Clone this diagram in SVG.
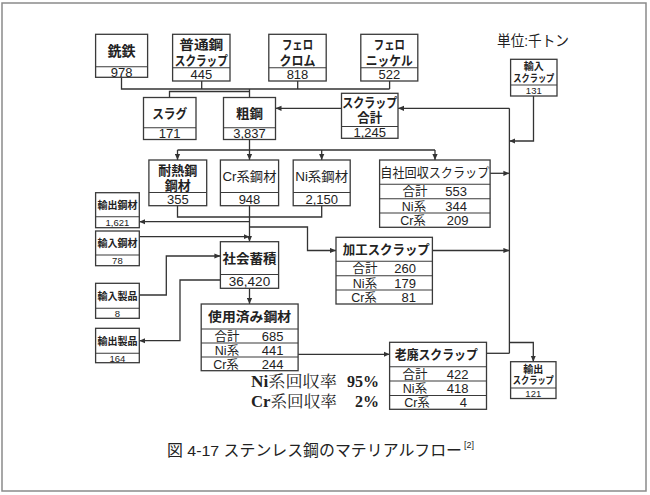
<svg xmlns="http://www.w3.org/2000/svg" width="650" height="495" viewBox="0 0 650 495">
<style>
.bx{fill:#fff;stroke:#3a3a3a;stroke-width:1.3}
.dv{stroke:#3a3a3a;stroke-width:1.1}
text{font-family:"Liberation Sans","Noto Sans CJK JP",sans-serif;fill:#222;text-anchor:middle}
.t{font-size:13px}
.b{font-weight:bold}
.n{font-size:13px}
.s{font-size:10px;font-weight:bold}
.sn{font-size:9.5px}
.r{font-size:12.5px}
.re{font-size:13px;text-anchor:end}
#conn path{fill:none;stroke:#333;stroke-width:1.3}
.ser{font-family:"Liberation Serif","Noto Serif CJK JP","Noto Sans CJK JP",serif;font-size:16px;text-anchor:start}
</style>
<defs>
<marker id="ah" markerUnits="userSpaceOnUse" markerWidth="6" markerHeight="6" refX="6" refY="3" orient="auto">
<path d="M0,0.4 L6,3 L0,5.6 z" fill="#333"/>
</marker>
</defs>
<rect x="2" y="3" width="644" height="488" fill="#fff" stroke="#8a8a8a" stroke-width="1.5"/>

<g id="conn">
<path d="M121.5,77.3 V89 H389.6 M201.7,81 V89 M297.7,81 V89 M389.6,81 V89"/>
<path d="M169.5,97.5 V91.5 H249.5 M249.5,89 V97.5"/>
<path d="M341.5,108.3 H275.5" marker-end="url(#ah)"/>
<path d="M509.4,108.3 H398" marker-end="url(#ah)"/>
<path d="M509.4,108.3 V353.3"/>
<path d="M533.5,96 V141 H509.4" marker-end="url(#ah)"/>
<path d="M490.1,173.3 H509.4" marker-end="url(#ah)"/>
<path d="M432.4,250.5 H509.4" marker-end="url(#ah)"/>
<path d="M486.5,353.3 H509.4"/>
<path d="M509.4,342.5 H533.3 V361.7" marker-end="url(#ah)"/>
<path d="M249.5,139.5 V150 M177.5,150 H435"/>
<path d="M177.5,150 V160" marker-end="url(#ah)"/>
<path d="M249.5,150 V160" marker-end="url(#ah)"/>
<path d="M321.7,150 V160" marker-end="url(#ah)"/>
<path d="M435,150 V160" marker-end="url(#ah)"/>
<path d="M177.5,205.7 V217 H321.7 V205.7"/>
<path d="M249.5,205.7 V241.7" marker-end="url(#ah)"/>
<path d="M249.5,221.7 H139.3" marker-end="url(#ah)"/>
<path d="M249.5,227 H307.5 V250.5 H336" marker-end="url(#ah)"/>
<path d="M139.3,236.7 H249.5" marker-end="url(#ah)"/>
<path d="M139.3,295 H166.3 V256 H220.4" marker-end="url(#ah)"/>
<path d="M220.4,280 H180 V340.7 H139.3" marker-end="url(#ah)"/>
<path d="M249.5,288.3 V304" marker-end="url(#ah)"/>
<path d="M298.1,354.3 H389.6" marker-end="url(#ah)"/>
</g>

<g id="senTetsu">
<rect class="bx" x="95.6" y="34.3" width="52" height="43"/>
<line class="dv" x1="95.6" y1="66.7" x2="147.6" y2="66.7"/>
<text class="t b" x="121.6" y="56" font-size="14" style="font-size:14px">銑鉄</text>
<text class="n" x="121.6" y="76.6">978</text>
</g>

<g id="futsuko">
<rect class="bx" x="172.6" y="34.3" width="57.4" height="46.7"/>
<line class="dv" x1="172.6" y1="67.7" x2="230" y2="67.7"/>
<text class="t b" x="201.3" y="49" textLength="44" lengthAdjust="spacingAndGlyphs">普通鋼</text>
<text class="t b" x="201.3" y="64.5" textLength="53" lengthAdjust="spacingAndGlyphs">スクラップ</text>
<text class="n" x="201.3" y="79">445</text>
</g>

<g id="ferroCr">
<rect class="bx" x="268.8" y="34.3" width="57.4" height="46.7"/>
<line class="dv" x1="268.8" y1="67.7" x2="326.2" y2="67.7"/>
<text class="t b" x="297.5" y="49" textLength="31" lengthAdjust="spacingAndGlyphs">フェロ</text>
<text class="t b" x="297.5" y="64.5" textLength="36" lengthAdjust="spacingAndGlyphs">クロム</text>
<text class="n" x="297.5" y="79">818</text>
</g>

<g id="ferroNi">
<rect class="bx" x="360.8" y="34.3" width="57" height="46.7"/>
<line class="dv" x1="360.8" y1="67.7" x2="417.8" y2="67.7"/>
<text class="t b" x="389.3" y="49" textLength="31" lengthAdjust="spacingAndGlyphs">フェロ</text>
<text class="t b" x="389.3" y="64.5" textLength="47" lengthAdjust="spacingAndGlyphs">ニッケル</text>
<text class="n" x="389.3" y="79">522</text>
</g>

<g id="unit">
<text x="497" y="46" style="font-size:15px;text-anchor:start" textLength="72" lengthAdjust="spacingAndGlyphs">単位:千トン</text>
</g>

<g id="yunyuScrap">
<rect class="bx" x="510.6" y="59.3" width="46.4" height="36.7"/>
<line class="dv" x1="510.6" y1="85" x2="557" y2="85"/>
<text class="s" x="533.8" y="70.4">輸入</text>
<text class="s" x="533.8" y="82.4" textLength="41" lengthAdjust="spacingAndGlyphs">スクラップ</text>
<text class="sn" x="533.8" y="94.2">131</text>
</g>

<g id="slag">
<rect class="bx" x="143.5" y="97.5" width="52.5" height="42"/>
<line class="dv" x1="143.5" y1="127.7" x2="196" y2="127.7"/>
<text class="t b" x="169.7" y="117.5" textLength="35" lengthAdjust="spacingAndGlyphs">スラグ</text>
<text class="n" x="169.7" y="138">171</text>
</g>

<g id="soko">
<rect class="bx" x="223.5" y="97.5" width="52" height="42"/>
<line class="dv" x1="223.5" y1="127.7" x2="275.5" y2="127.7"/>
<text class="t b" x="249.5" y="117.5" textLength="27" lengthAdjust="spacingAndGlyphs">粗鋼</text>
<text class="n" x="249.5" y="138">3,837</text>
</g>

<g id="scrapTotal">
<rect class="bx" x="341.5" y="93.3" width="56.5" height="45"/>
<line class="dv" x1="341.5" y1="126.5" x2="398" y2="126.5"/>
<text class="t b" x="369.7" y="106.5" textLength="55" lengthAdjust="spacingAndGlyphs">スクラップ</text>
<text class="t b" x="369.7" y="122.3" textLength="25" lengthAdjust="spacingAndGlyphs">合計</text>
<text class="n" x="369.7" y="137">1,245</text>
</g>

<g id="tainetsu">
<rect class="bx" x="148.9" y="160" width="57.8" height="45.7"/>
<line class="dv" x1="148.9" y1="192.5" x2="206.7" y2="192.5"/>
<text class="t b" x="177.8" y="175" textLength="39" lengthAdjust="spacingAndGlyphs">耐熱鋼</text>
<text class="t b" x="177.8" y="189.5" textLength="26" lengthAdjust="spacingAndGlyphs">鋼材</text>
<text class="n" x="177.8" y="203.8">355</text>
</g>

<g id="crKozai">
<rect class="bx" x="220.4" y="160" width="58.2" height="45.7"/>
<line class="dv" x1="220.4" y1="192.5" x2="278.6" y2="192.5"/>
<text class="t" x="249.5" y="181.3" textLength="54" lengthAdjust="spacingAndGlyphs">Cr系鋼材</text>
<text class="n" x="249.5" y="203.8">948</text>
</g>

<g id="niKozai">
<rect class="bx" x="293.2" y="160" width="57" height="45.7"/>
<line class="dv" x1="293.2" y1="192.5" x2="350.2" y2="192.5"/>
<text class="t" x="321.7" y="181.3" textLength="53" lengthAdjust="spacingAndGlyphs">Ni系鋼材</text>
<text class="n" x="321.7" y="203.8">2,150</text>
</g>

<g id="jishaScrap">
<rect class="bx" x="379.6" y="160" width="110.5" height="67.3"/>
<line class="dv" x1="379.6" y1="184.3" x2="490.1" y2="184.3"/>
<line class="dv" x1="379.6" y1="198.7" x2="490.1" y2="198.7"/>
<line class="dv" x1="379.6" y1="213" x2="490.1" y2="213"/>
<text class="t" x="434.8" y="177" textLength="109" lengthAdjust="spacingAndGlyphs">自社回収スクラップ</text>
<text class="r" x="415" y="196.3">合計</text><text class="re" x="467" y="196.3">553</text>
<text class="r" x="414" y="210.8">Ni系</text><text class="re" x="467" y="210.8">344</text>
<text class="r" x="413" y="225">Cr系</text><text class="re" x="468.5" y="225">209</text>
</g>

<g id="yushutsuKozai">
<rect class="bx" x="95.6" y="192.7" width="43.7" height="35"/>
<line class="dv" x1="95.6" y1="216.7" x2="139.3" y2="216.7"/>
<text class="s" x="117.4" y="208.7">輸出鋼材</text>
<text class="sn" x="117.4" y="225.8">1,621</text>
</g>

<g id="yunyuKozai">
<rect class="bx" x="95.6" y="231" width="43.7" height="34.7"/>
<line class="dv" x1="95.6" y1="255" x2="139.3" y2="255"/>
<text class="s" x="117.4" y="246.7">輸入鋼材</text>
<text class="sn" x="117.4" y="264">78</text>
</g>

<g id="shakaiChikuseki">
<rect class="bx" x="220.4" y="241.7" width="58.2" height="46.6"/>
<line class="dv" x1="220.4" y1="274.5" x2="278.6" y2="274.5"/>
<text class="t b" x="249.5" y="263" textLength="54" lengthAdjust="spacingAndGlyphs">社会蓄積</text>
<text class="n" x="249.5" y="286" style="font-size:13.5px">36,420</text>
</g>

<g id="kakoScrap">
<rect class="bx" x="336" y="237.3" width="96.4" height="66.7"/>
<line class="dv" x1="336" y1="261.3" x2="432.4" y2="261.3"/>
<line class="dv" x1="336" y1="275.7" x2="432.4" y2="275.7"/>
<line class="dv" x1="336" y1="290" x2="432.4" y2="290"/>
<text class="t b" x="386.3" y="254" textLength="87" lengthAdjust="spacingAndGlyphs">加工スクラップ</text>
<text class="r" x="365" y="273.2">合計</text><text class="re" x="416" y="273.2">260</text>
<text class="r" x="365" y="287.5">Ni系</text><text class="re" x="416" y="287.5">179</text>
<text class="r" x="364" y="301.7">Cr系</text><text class="re" x="416" y="301.7">81</text>
</g>

<g id="yunyuSeihin">
<rect class="bx" x="95.6" y="283.3" width="43.7" height="35"/>
<line class="dv" x1="95.6" y1="308.3" x2="139.3" y2="308.3"/>
<text class="s" x="117.4" y="299.5">輸入製品</text>
<text class="sn" x="117.4" y="317">8</text>
</g>

<g id="yushutsuSeihin">
<rect class="bx" x="95.6" y="328.3" width="43.7" height="34.4"/>
<line class="dv" x1="95.6" y1="353.3" x2="139.3" y2="353.3"/>
<text class="s" x="117.4" y="344.5">輸出製品</text>
<text class="sn" x="117.4" y="361.6">164</text>
</g>

<g id="shiyozumi">
<rect class="bx" x="201.2" y="304" width="96.9" height="66.7"/>
<line class="dv" x1="201.2" y1="329" x2="298.1" y2="329"/>
<line class="dv" x1="201.2" y1="343" x2="298.1" y2="343"/>
<line class="dv" x1="201.2" y1="357" x2="298.1" y2="357"/>
<text class="t b" x="249.6" y="321.2" textLength="83" lengthAdjust="spacingAndGlyphs">使用済み鋼材</text>
<text class="r" x="227" y="340.7">合計</text><text class="re" x="283.5" y="340.7">685</text>
<text class="r" x="227" y="354.7">Ni系</text><text class="re" x="283.5" y="354.7">441</text>
<text class="r" x="226" y="368.5">Cr系</text><text class="re" x="283.5" y="368.5">244</text>
</g>

<g id="rohaiScrap">
<rect class="bx" x="389.6" y="342.3" width="96.9" height="67"/>
<line class="dv" x1="389.6" y1="366.7" x2="486.5" y2="366.7"/>
<line class="dv" x1="389.6" y1="381" x2="486.5" y2="381"/>
<line class="dv" x1="389.6" y1="395.5" x2="486.5" y2="395.5"/>
<text class="t b" x="436.3" y="359.2" textLength="83" lengthAdjust="spacingAndGlyphs">老廃スクラップ</text>
<text class="r" x="415" y="378.5">合計</text><text class="re" x="468.5" y="378.5">422</text>
<text class="r" x="415" y="393">Ni系</text><text class="re" x="468.5" y="393">418</text>
<text class="r" x="417" y="407">Cr系</text><text class="re" x="467" y="407">4</text>
</g>

<g id="yushutsuScrap">
<rect class="bx" x="510.6" y="361.7" width="45.4" height="36.8"/>
<line class="dv" x1="510.6" y1="388" x2="556" y2="388"/>
<text class="s" x="533.3" y="372.7">輸出</text>
<text class="s" x="533.3" y="384" textLength="41" lengthAdjust="spacingAndGlyphs">スクラップ</text>
<text class="sn" x="533.3" y="396.9">121</text>
</g>

<g id="recoveryRates">
<text class="ser" x="251" y="386.7" textLength="86" lengthAdjust="spacingAndGlyphs"><tspan font-weight="bold">Ni</tspan>系回収率</text>
<text class="ser" x="379" y="386.7" style="text-anchor:end;font-weight:bold">95%</text>
<text class="ser" x="251" y="406.5" textLength="86" lengthAdjust="spacingAndGlyphs"><tspan font-weight="bold">Cr</tspan>系回収率</text>
<text class="ser" x="379" y="406.5" style="text-anchor:end;font-weight:bold">2%</text>
</g>

<g id="caption">
<text x="167" y="456" style="font-size:15.5px;text-anchor:start" textLength="295" lengthAdjust="spacingAndGlyphs">図 4-17 ステンレス鋼のマテリアルフロー</text>
<text x="464" y="448" style="font-size:9px;text-anchor:start">[2]</text>
</g>
</svg>
